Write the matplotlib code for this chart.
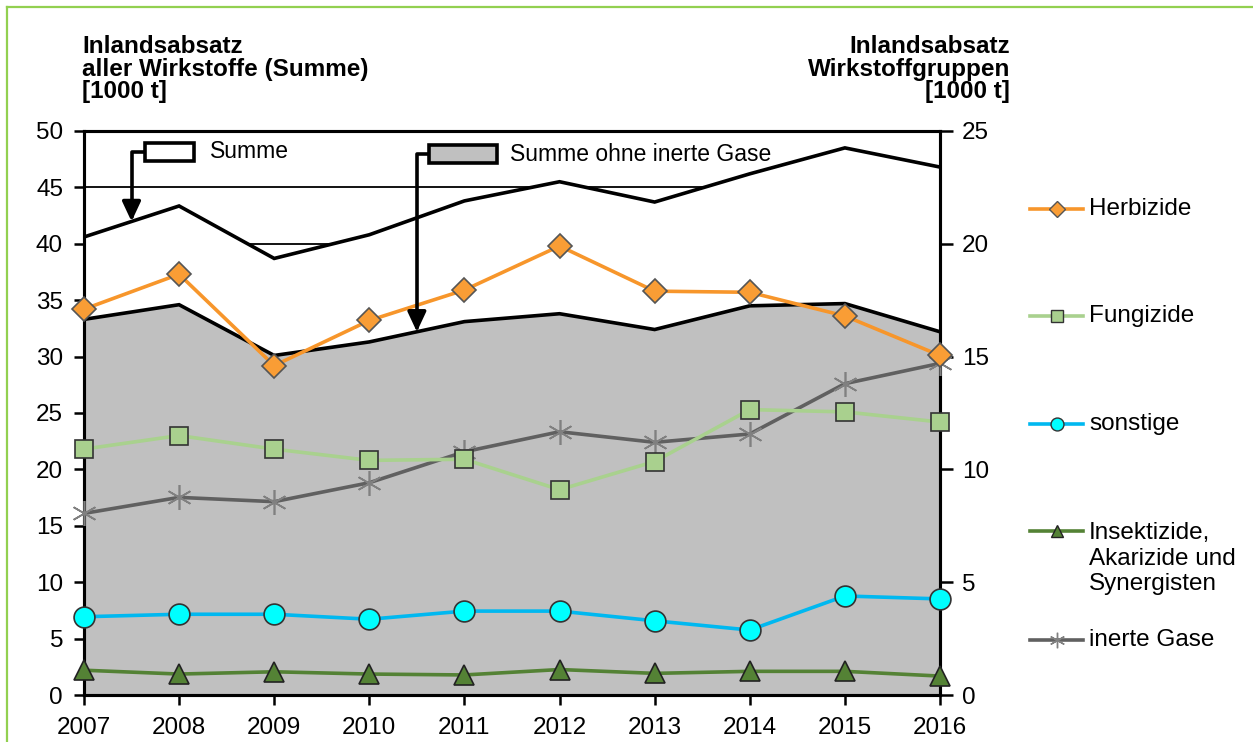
import numpy as np
import matplotlib
matplotlib.use("Agg")
import matplotlib.pyplot as plt
from matplotlib.lines import Line2D
from matplotlib.patches import Rectangle

plt.rcParams['font.family'] = ['Liberation Sans', 'DejaVu Sans']

years = [2007, 2008, 2009, 2010, 2011, 2012, 2013, 2014, 2015, 2016]

# left axis (Summe) [1000 t]
summe = [40.6, 43.35, 38.7, 40.8, 43.8, 45.5, 43.7, 46.2, 48.5, 46.8]
summe_ohne_gase = [33.3, 34.6, 30.1, 31.3, 33.1, 33.8, 32.4, 34.5, 34.7, 32.2]

# right axis (Wirkstoffgruppen) [1000 t]
herbizide = [17.1, 18.65, 14.6, 16.6, 17.95, 19.9, 17.9, 17.85, 16.8, 15.05]
fungizide = [10.9, 11.5, 10.9, 10.4, 10.45, 9.1, 10.35, 12.65, 12.55, 12.1]
sonstige = [3.47, 3.58, 3.58, 3.36, 3.72, 3.72, 3.29, 2.88, 4.39, 4.26]
insektizide = [1.1, 0.93, 1.03, 0.93, 0.89, 1.13, 0.96, 1.05, 1.05, 0.84]
inerte_gase = [8.05, 8.76, 8.57, 9.41, 10.78, 11.67, 11.2, 11.57, 13.8, 14.7]

left_ticks = [0, 5, 10, 15, 20, 25, 30, 35, 40, 45, 50]
right_ticks = [0, 5, 10, 15, 20, 25]

FS = 17.5

fig = plt.figure(figsize=(12.53, 7.42), dpi=100)
ax = fig.add_axes([0.067, 0.0633, 0.6832, 0.7602])
ax2 = ax.twinx()

# background grid (only visible above the Summe area)
ax.set_axisbelow(True)
ax.yaxis.grid(True, color='black', lw=1.3)

ax.fill_between(years, summe, 0, color='white', zorder=1, lw=0)
ax.fill_between(years, summe_ohne_gase, 0, color='#c0c0c0', zorder=2, lw=0)
ax.plot(years, summe, color='black', lw=2.6, zorder=3, solid_joinstyle='miter')
ax.plot(years, summe_ohne_gase, color='black', lw=2.6, zorder=3, solid_joinstyle='miter')

ax.set_xlim(2007, 2016)
ax.set_ylim(0, 50)
ax.set_yticks(left_ticks)
ax.set_xticks(years)
ax2.set_ylim(0, 25)
ax2.set_yticks(right_ticks)

for a in (ax, ax2):
    for s in a.spines.values():
        s.set_linewidth(2.2)
        s.set_color('black')
ax.tick_params(axis='y', labelsize=FS, length=7, width=1.8, pad=8, direction='out')
ax.tick_params(axis='x', labelsize=FS, length=7, width=1.8, pad=9, direction='out')
ax2.tick_params(axis='y', labelsize=FS, length=9, width=1.8, pad=7, direction='out')

series = [
    (herbizide, 'Herbizide', '#f7962b', 'D', '#f99d35', 12.5, '#555555'),
    (fungizide, 'Fungizide', '#a9d18e', 's', '#a9d08e', 13, '#333333'),
    (sonstige, 'sonstige', '#00b8f0', 'o', '#00ffff', 15, '#333333'),
    (insektizide, 'Insektizide,\nAkarizide und\nSynergisten', '#548235', '^', '#548235', 14, '#222222'),
    (inerte_gase, 'inerte Gase', '#606060', (6, 2, 0), '#808080', 18, '#808080'),
]
zorders = [8, 6, 7, 7, 5]
for (vals, lab, lc, mk, mfc, ms, mec), z in zip(series, zorders):
    ax2.plot(years, vals, color=lc, lw=2.6, marker=mk, markersize=ms,
             markerfacecolor=mfc, markeredgecolor=mec, markeredgewidth=1.2,
             zorder=z, clip_on=False)

# callout boxes with arrows
def callout(bx0, bx1, by0, by1, fc, text, tx, xarrow, yvals):
    ax2.add_patch(Rectangle((bx0, by0), bx1 - bx0, by1 - by0, transform=ax.transAxes,
                            facecolor=fc, edgecolor='black', lw=2.6, zorder=12, clip_on=False))
    ax2.text(tx, (by0 + by1) / 2, text, transform=ax.transAxes, fontsize=16.5,
             va='center', ha='left', zorder=12)
    yarrow = float(np.interp(xarrow, years, yvals))
    ax2.annotate('', xy=(xarrow, yarrow), xycoords=ax.transData,
                 xytext=(bx0, (by0 + by1) / 2), textcoords=ax.transAxes,
                 arrowprops=dict(arrowstyle='-|>,head_length=0.6,head_width=0.28',
                                 connectionstyle='angle,angleA=180,angleB=90,rad=0',
                                 color='black', lw=2.6, shrinkA=0, shrinkB=0,
                                 mutation_scale=20),
                 zorder=11)

callout(0.071, 0.1285, 0.947, 0.979, 'white', 'Summe', 0.147, 2007.5, summe)
callout(0.403, 0.4825, 0.943, 0.975, '#c0c0c0', 'Summe ohne inerte Gase', 0.4977, 2010.5, summe_ohne_gase)

# axis headers
fig.text(82 / 1253, 1 - 35 / 742, 'Inlandsabsatz\naller Wirkstoffe (Summe)\n[1000 t]',
         fontsize=FS, fontweight='bold', ha='left', va='top', linespacing=0.98)
fig.text(1010 / 1253, 1 - 35 / 742, 'Inlandsabsatz\nWirkstoffgruppen\n[1000 t]',
         fontsize=FS, fontweight='bold', ha='right', va='top', linespacing=0.98,
         multialignment='right')

# manual legend
leg_y = [209, 316, 424, 531, 640]
W, H = 1253, 742
for (vals, lab, lc, mk, mfc, ms, mec), yy in zip(series, leg_y):
    yf = 1 - yy / H
    fig.add_artist(Line2D([1030 / W, 1057 / W, 1083 / W], [yf, yf, yf], color=lc, lw=2.6,
                          marker=mk, markevery=[1], markersize=ms * 0.62,
                          markerfacecolor=mfc, markeredgecolor=mec, markeredgewidth=1.0))
    if '\n' in lab:
        fig.text(1089 / W, 1 - (yy - 9) / H, lab, fontsize=FS, ha='left', va='top',
                 linespacing=1.22)
    else:
        fig.text(1089 / W, yf, lab, fontsize=FS, ha='left', va='center')

# figure border (green)
fig.add_artist(Line2D([7 / W, 1], [1 - 7 / H, 1 - 7 / H], color='#92d050', lw=1.6))
fig.add_artist(Line2D([7 / W, 7 / W], [0, 1 - 7 / H], color='#92d050', lw=1.6))

fig.savefig('out.png', dpi=100)
